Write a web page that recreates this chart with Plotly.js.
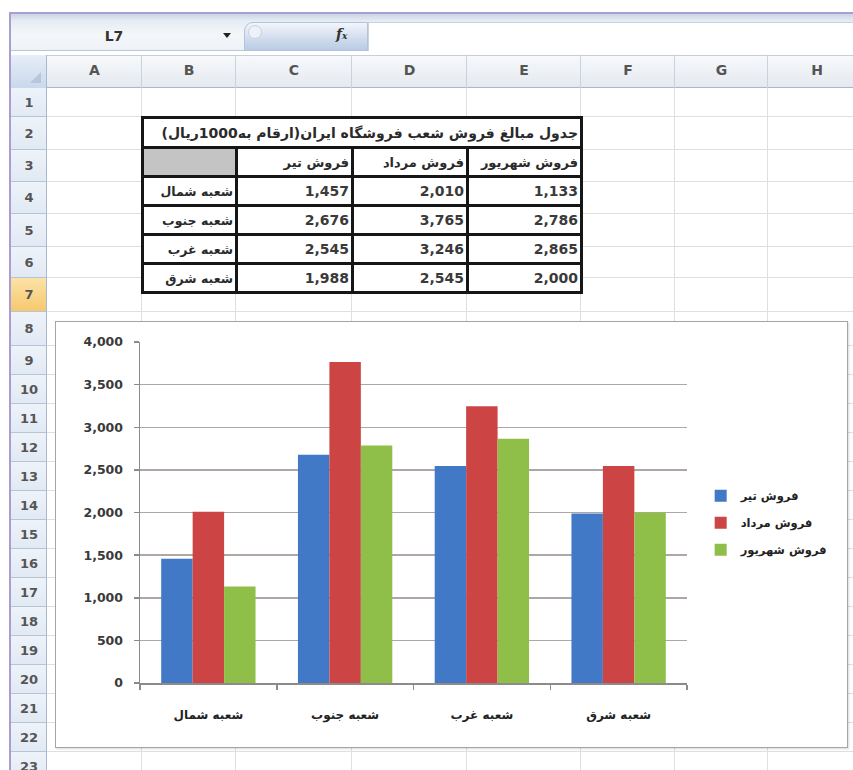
<!DOCTYPE html>
<html>
<head>
<meta charset="utf-8">
<script src="https://cdn.plot.ly/plotly-3.0.1.min.js"></script>
<style>
  html, body { margin:0; padding:0; }
  body { width:853px; height:770px; position:relative; overflow:hidden; background:#fff; font-family:"DejaVu Sans", sans-serif; }
  .abs { position:absolute; box-sizing:border-box; }
  #sheet-table { position:absolute; left:141px; top:116px; border-collapse:collapse; table-layout:fixed; }
  #sheet-table td { border:3px solid #161616; padding:0 2px; height:26px; text-align:right; white-space:nowrap; overflow:hidden; color:#222; background:#fff; }
  #sheet-table td.fa { font-family:"DejaVu Sans", sans-serif; font-size:12.5px; font-weight:700; color:#2a2a2a; }
  #sheet-table td.num { font-family:"DejaVu Sans", sans-serif; font-size:14px; font-weight:700; color:#3a3a3a; }
  #chartbox { position:absolute; left:55px; top:321px; width:793px; height:427px; border:1.5px solid #a8a4a4; background:#fff; box-sizing:border-box; box-shadow:1px 1px 2px rgba(0,0,0,0.15); }
  #chart { position:absolute; left:0; top:0; width:790px; height:424px; }
</style>
</head>
<body>
<div id="grid"></div>
<table id="sheet-table"></table>
<div id="chartbox"><div id="chart"></div></div>
<script>
// ---------------- DATA ----------------
const categories = ['شعبه شمال', 'شعبه جنوب', 'شعبه غرب', 'شعبه شرق'];
const seriesNames = ['فروش تیر', 'فروش مرداد', 'فروش شهریور'];
const salesTir = [1457, 2676, 2545, 1988];
const salesMordad = [2010, 3765, 3246, 2545];
const salesShahrivar = [1133, 2786, 2865, 2000];
const tableTitle = 'جدول مبالغ فروش شعب فروشگاه ایران(ارقام به1000ریال)';
const columnLetters = ['A', 'B', 'C', 'D', 'E', 'F', 'G', 'H'];
const nameBoxText = 'L7';
const selectedRow = 7;

// ---------------- SPREADSHEET BACKGROUND ----------------
const colX = [47, 142, 236, 352, 467, 581, 675, 768, 866];
const rowY = [88, 117, 150, 182, 214, 247, 278, 312, 346, 375, 404, 433, 462, 491, 520, 549, 578, 607, 636, 665, 694, 723, 752, 781];
const grid = document.getElementById('grid');
function box(l, t, w, h, style, html) {
  const d = document.createElement('div');
  d.className = 'abs';
  d.style.left = l + 'px'; d.style.top = t + 'px'; d.style.width = w + 'px'; d.style.height = h + 'px';
  if (style) d.setAttribute('style', d.getAttribute('style') + ';' + style);
  if (html !== undefined) d.innerHTML = html;
  grid.appendChild(d);
  return d;
}
// purple frame
box(9, 12, 860, 2, 'background:#a79fd3');
box(9, 12, 2, 770, 'background:#a79fd3');
// formula bar
box(11, 14, 850, 37, 'background:linear-gradient(#c9d5e6 0px,#e6ecf4 7px,#f4f6f9 20px,#eef2f7 100%);border-bottom:1px solid #b9c7da');
box(94, 28, 40, 18, 'font:bold 14px "DejaVu Sans", sans-serif;color:#333;text-align:center', nameBoxText);
box(223, 33, 0, 0, 'border-left:4px solid transparent;border-right:4px solid transparent;border-top:5px solid #222');
box(244, 22, 124, 29, 'background:linear-gradient(#f3f6fb,#cfdbec 60%,#b9cbe4);border:1px solid #b3c3d9;border-radius:9px 0 0 0');
box(248, 25, 14, 14, 'border:1px solid #c8d2e0;border-radius:50%;background:#eef2f8');
box(336, 26, 22, 20, 'font:italic bold 14px "DejaVu Serif", serif;color:#333', 'f<span style="font-size:9px">x</span>');
box(368, 22, 490, 29, 'background:#fff;border-top:1px solid #c8d3e2;border-left:1px solid #c8d3e2');
// column header row
box(11, 55, 850, 33, 'background:linear-gradient(#f7f9fb,#e4e9ef);border-bottom:1px solid #a9b8cc;border-top:1px solid #c5d0de');
box(11, 55, 36, 33, 'background:linear-gradient(#e6eef8,#c9d8ec);border-right:1px solid #a9b8cc');
box(30, 72, 0, 0, 'border-left:11px solid transparent;border-bottom:11px solid #b6c6dc');
for (let i = 0; i < columnLetters.length; i++) {
  const l = colX[i], r = colX[i + 1];
  box(r - 1, 55, 1, 33, 'background:#c9d2dd');
  box(l, 62, r - l, 20, 'font:bold 14px "DejaVu Sans", sans-serif;color:#555;text-align:center', columnLetters[i]);
}
// row header column + gridlines
for (let i = 0; i < rowY.length - 1; i++) {
  const t = rowY[i], h = rowY[i + 1] - rowY[i];
  const sel = (i + 1) === selectedRow;
  box(11, t, 36, h, (sel ? 'background:linear-gradient(#fbe2a6,#f6c96f);' : 'background:linear-gradient(#eef3f9,#e1e9f4);') + 'border-bottom:1px solid #b6c4d6;border-right:1px solid #a9b8cc');
  box(11, t + (h - 16) / 2, 36, 16, 'font:bold 13px "DejaVu Sans", sans-serif;color:#555;text-align:center', String(i + 1));
  box(47, rowY[i + 1] - 1, 820, 1, 'background:#dcdfe3');
}
for (let i = 1; i < colX.length; i++) {
  box(colX[i] - 1, 88, 1, 700, 'background:#dcdfe3');
}

// ---------------- TABLE (built from the data arrays) ----------------
const tbl = document.getElementById('sheet-table');
const colW = [94, 116, 115, 114];
const fmt = v => v.toLocaleString('en-US');
let html = '<colgroup>' + colW.map(w => '<col style="width:' + w + 'px">').join('') + '</colgroup>';
html += '<tr><td class="fa" colspan="4" style="height:27px;font-size:14px">' + tableTitle + '</td></tr>';
html += '<tr><td style="background:#c4c4c4"></td>' + seriesNames.map(s => '<td class="fa" style="font-size:13px">' + s + '</td>').join('') + '</tr>';
const seriesVals = [salesTir, salesMordad, salesShahrivar];
categories.forEach((c, i) => {
  html += '<tr><td class="fa">' + c + '</td>' + seriesVals.map(arr => '<td class="num">' + fmt(arr[i]) + '</td>').join('') + '</tr>';
});
tbl.innerHTML = html;

// ---------------- CHART ----------------
const colors = ['#4179c6', '#cc4544', '#8fbf48'];
const traces = seriesVals.map((vals, k) => ({
  type: 'bar',
  name: seriesNames[k],
  x: categories,
  y: vals,
  legendgroup: 'g' + k,
  marker: { color: colors[k], line: { width: 0 } },
  hoverinfo: 'none'
}));

const layout = {
  width: 790,
  height: 424,
  margin: { l: 84, r: 159, t: 20, b: 63 },
  paper_bgcolor: '#ffffff',
  plot_bgcolor: '#ffffff',
  barmode: 'group',
  bargap: 0.31,
  bargroupgap: 0,
  showlegend: true,
  legend: {
    x: 1.025, xanchor: 'left',
    y: 0.47, yanchor: 'middle',
    tracegroupgap: 8,
    font: { family: '"DejaVu Sans", sans-serif', size: 11.5, color: '#222', weight: 700 },
    bgcolor: 'rgba(0,0,0,0)'
  },
  xaxis: {
    type: 'category',
    showline: true, linecolor: '#8e8a8a', linewidth: 1.5,
    ticks: 'outside', tickson: 'boundaries', ticklen: 5, tickcolor: '#8e8a8a', tickwidth: 1.5,
    showgrid: false, zeroline: false,
    ticklabelstandoff: 20,
    tickfont: { family: '"DejaVu Sans", sans-serif', size: 12, color: '#222', weight: 700 }
  },
  yaxis: {
    range: [0, 4000], dtick: 500, tick0: 0,
    tickformat: ',d',
    showline: true, linecolor: '#8e8a8a', linewidth: 1.5,
    ticks: 'outside', ticklen: 5, tickcolor: '#8e8a8a', tickwidth: 1.5,
    showgrid: true, gridcolor: '#aea7a5', gridwidth: 1.5,
    zeroline: false,
    ticklabelstandoff: 8,
    tickfont: { family: '"DejaVu Sans", sans-serif', size: 12.5, color: '#3a3a3a', weight: 700 }
  }
};

Plotly.newPlot('chart', traces, layout, { displayModeBar: false, staticPlot: true });
</script>
</body>
</html>
